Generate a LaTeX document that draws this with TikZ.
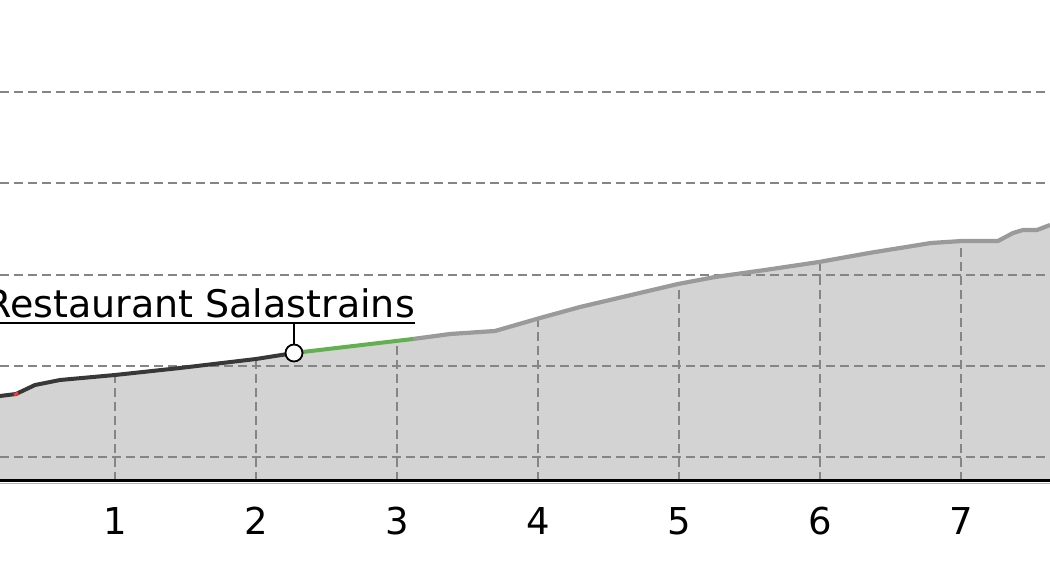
\documentclass[tikz,border=0pt]{standalone}
\usepackage{fontspec}
\setmainfont{DejaVu Sans}
\usepackage{xcolor}
\usepackage{tikz}
\usetikzlibrary{positioning}

\definecolor{groundfill}{HTML}{D3D3D3}
\definecolor{gridgray}{HTML}{858585}
\definecolor{walkdark}{HTML}{383838}
\definecolor{walkgreen}{HTML}{62B04F}
\definecolor{walkgray}{HTML}{9A9A9A}

\newcommand{\profileline}{(0,164) -- (16,166) -- (35,175) -- (60,180) -- (115,185) -- (180,192) -- (256,201) -- (294,207) -- (413,221) -- (450,226) -- (495,229) -- (540,242) -- (580,253) -- (678,276) -- (715,283) -- (765,290) -- (819,298) -- (869,307) -- (931,317) -- (962,319) -- (998,319) -- (1013,327) -- (1023,330) -- (1037,330) -- (1050,335)}

\begin{document}
\begin{tikzpicture}[x=1pt, y=1pt, line join=round,
		gridline/.style={gridgray, line width=1.8pt, dash pattern=on 9pt off 5pt},
		ticklabel/.style={font=\fontsize{37}{37}\selectfont, anchor=center},
		stopmark/.style={circle, draw=black, fill=white, line width=1.8pt, minimum size=17pt, inner sep=0pt}]
		\useasboundingbox (0,0) rectangle (1050,560);
		\clip (0,0) rectangle (1050,560);

		\fill[groundfill] (0,79) -- \profileline -- (1050,79) -- cycle;
		\begin{scope}
			\clip (0,79) -- \profileline -- (1050,79) -- cycle;
			\draw[gridline] (115,79) -- (115,400);
			\draw[gridline] (256,79) -- (256,400);
			\draw[gridline] (397,79) -- (397,400);
			\draw[gridline] (538,79) -- (538,400);
			\draw[gridline] (679,79) -- (679,400);
			\draw[gridline] (820,79) -- (820,400);
			\draw[gridline] (961,79) -- (961,400);
		\end{scope}
		\draw[gridline] (0,468) -- (1050,468);
		\draw[gridline] (0,377) -- (1050,377);
		\draw[gridline] (0,285) -- (1050,285);
		\draw[gridline] (0,194) -- (1050,194);
		\draw[gridline] (0,103) -- (1050,103);

		\draw[walkgray, line width=4.2pt] (413,221) -- (450,226) -- (495,229) -- (540,242) -- (580,253) -- (678,276) -- (715,283) -- (765,290) -- (819,298) -- (869,307) -- (931,317) -- (962,319) -- (998,319) -- (1013,327) -- (1023,330) -- (1037,330) -- (1050,335);
		\draw[walkdark, line width=4pt] (0,164) -- (16,166) -- (35,175) -- (60,180) -- (115,185) -- (180,192) -- (256,201) -- (294,207);
		\draw[red!80, line width=3pt] (14,165) -- (18,167);
		\draw[walkgreen, line width=4pt] (294,207) -- (413,221);

		\draw[black, line width=3pt] (0,79) -- (1050,79);
		\draw[gray!60, line width=1pt] (0,76.5) -- (1050,76.5);

		\node[ticklabel] (km1) at (115,39) {1};
		\node[ticklabel] (km2) at (256,39) {2};
		\node[ticklabel] (km3) at (397,39) {3};
		\node[ticklabel] (km4) at (538,39) {4};
		\node[ticklabel] (km5) at (679,39) {5};
		\node[ticklabel] (km6) at (820,39) {6};
		\node[ticklabel] (km7) at (961,39) {7};

		\node[stopmark] (salastrains) at (294,207) {};
		\node[font=\fontsize{38}{38}\selectfont, anchor=base east, inner sep=0pt] (restname) at (415,242) {Restaurant Salastrains};
		\coordinate[above=30pt of salastrains.center] (namefoot);
		\draw[line width=1.8pt] ([yshift=-5pt]restname.base west) -- ([yshift=-5pt]restname.base east);
		\draw[line width=1.8pt] (namefoot) -- (salastrains);
	\end{tikzpicture}
\end{document}
